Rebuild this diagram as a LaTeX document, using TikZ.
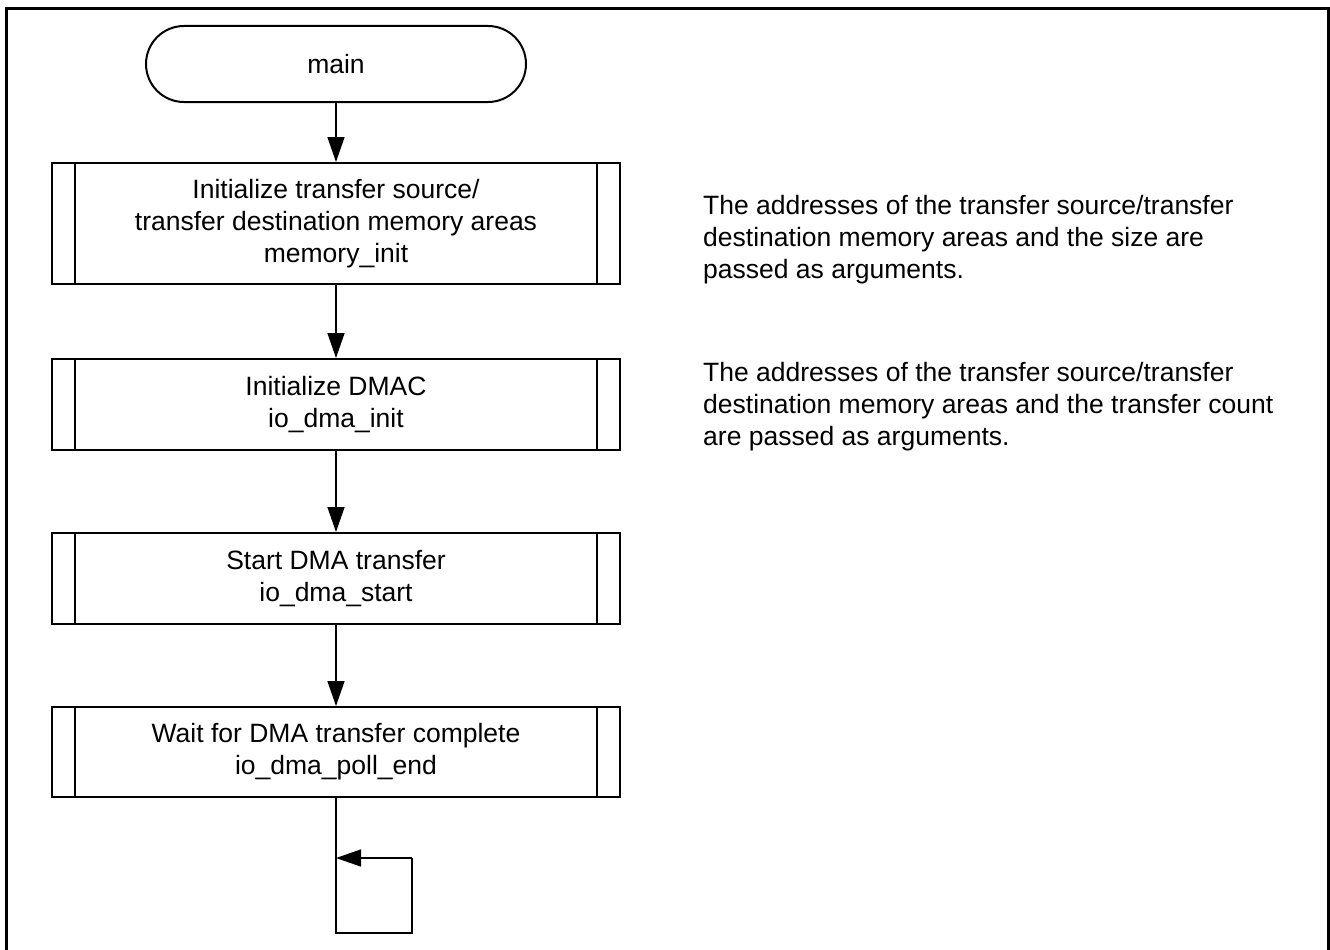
\documentclass[tikz,border=0pt]{standalone}
\usepackage{fontspec}
\setmainfont{Liberation Sans}
\usetikzlibrary{arrows.meta}
\newcommand\diagfont{\fontsize{26.5pt}{32pt}\selectfont}
\begin{document}
\begin{tikzpicture}[x=1pt,y=-1pt,
  proc/.style={draw, line width=2pt, minimum width=568pt, inner sep=0pt, align=center, font=\diagfont,
    path picture={
      \draw[line width=1.5pt] ([xshift=23pt]path picture bounding box.north west) -- ([xshift=23pt]path picture bounding box.south west);
      \draw[line width=1.5pt] ([xshift=-23pt]path picture bounding box.north east) -- ([xshift=-23pt]path picture bounding box.south east);}},
  term/.style={draw, line width=2pt, rounded corners=38pt, minimum width=380pt, minimum height=76pt, inner sep=0pt, font=\diagfont},
  arr/.style={line width=1.5pt, -{Triangle[length=25pt,width=17pt]}},
  plain/.style={line width=1.5pt},
  note/.style={anchor=north west, inner sep=0pt, align=left, font=\diagfont}]
\useasboundingbox (0,0) rectangle (1330,950);
\fill[white] (0,0) rectangle (1330,950);
\draw[line width=3pt] (6.5,970) -- (6.5,8.5) -- (1328.5,8.5) -- (1328.5,970);

\node[term] (t) at (336,64) {main};
\node[proc, minimum height=121pt] (b1) at (336,223.5) {Initialize transfer source/\\transfer destination memory areas\\memory\_init};
\node[proc, minimum height=91pt] (b2) at (336,404.5) {Initialize DMAC\\io\_dma\_init};
\node[proc, minimum height=91pt] (b3) at (336,578.5) {Start DMA transfer\\io\_dma\_start};
\node[proc, minimum height=90pt] (b4) at (336,752) {Wait for DMA transfer complete\\io\_dma\_poll\_end};

\draw[arr] (t) -- (b1);
\draw[arr] (b1) -- (b2);
\draw[arr] (b2) -- (b3);
\draw[arr] (b3) -- (b4);

\coordinate (l1) at (336,933);
\coordinate (l2) at (412,933);
\coordinate (l3) at (412,858);
\coordinate (l4) at (336,858);
\draw[plain] (b4.south) -- (l1) -- (l2) -- (l3);
\draw[arr] (l3) -- (l4);

\node[note] (n1) at (703,195) {The addresses of the transfer source/transfer\\destination memory areas and the size are\\passed as arguments.};
\node[note] (n2) at (703,362) {The addresses of the transfer source/transfer\\destination memory areas and the transfer count\\are passed as arguments.};
\end{tikzpicture}
\end{document}
